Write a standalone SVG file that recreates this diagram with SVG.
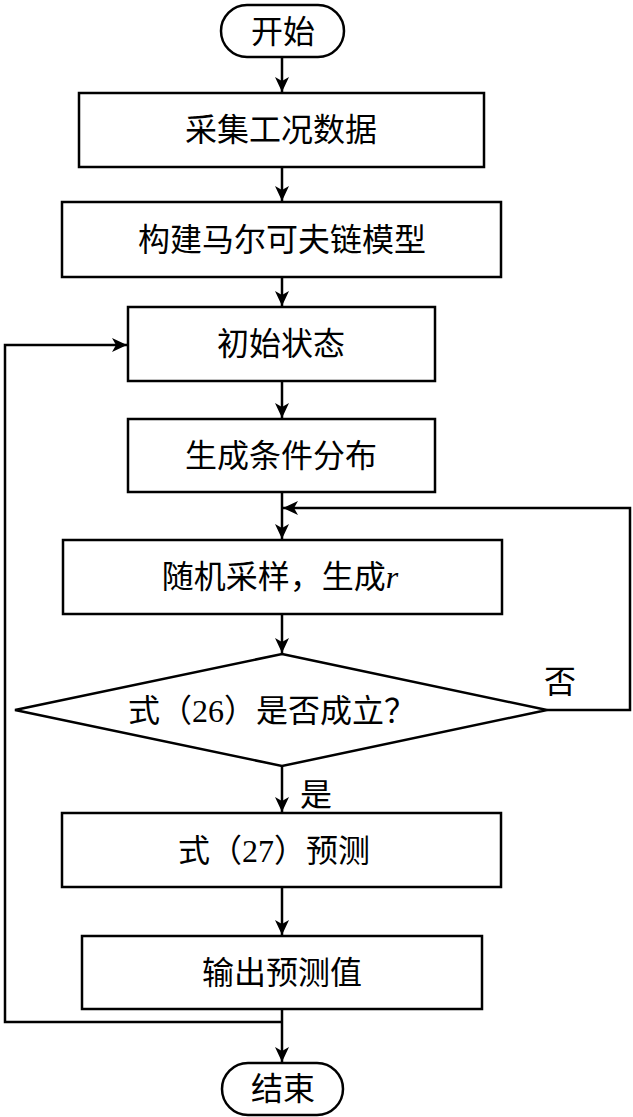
<svg xmlns="http://www.w3.org/2000/svg" width="633" height="1117" viewBox="0 0 633 1117">
<style>
.s{fill:#fff;stroke:#000;stroke-width:2.5}
.t{font-family:"Liberation Serif","Noto Sans CJK SC",serif;font-size:32px;text-anchor:middle;dominant-baseline:central;fill:#000}
.c{fill:none;stroke:#000;stroke-width:2.5}
</style>
<defs>
<marker id="a" markerUnits="userSpaceOnUse" markerWidth="16" markerHeight="14" refX="15" refY="7" orient="auto">
<path d="M0,0 L15,7 L0,14 L4,7 Z" fill="#000"/>
</marker>
</defs>
<g id="connectors">
<line class="c" x1="282" y1="57" x2="282" y2="92" marker-end="url(#a)"/>
<line class="c" x1="282" y1="167" x2="282" y2="201" marker-end="url(#a)"/>
<line class="c" x1="282" y1="277" x2="282" y2="306" marker-end="url(#a)"/>
<line class="c" x1="282" y1="381" x2="282" y2="418" marker-end="url(#a)"/>
<line class="c" x1="282" y1="492" x2="282" y2="539" marker-end="url(#a)"/>
<line class="c" x1="282" y1="614" x2="282" y2="653" marker-end="url(#a)"/>
<line class="c" x1="282" y1="766" x2="282" y2="812" marker-end="url(#a)"/>
<line class="c" x1="282" y1="887" x2="282" y2="935" marker-end="url(#a)"/>
<line class="c" x1="282" y1="1009" x2="282" y2="1062" marker-end="url(#a)"/>
<polyline class="c" points="282,1022 5,1022 5,345 127,345" marker-end="url(#a)"/>
<polyline class="c" points="547,710 630,710 630,508 283,508" marker-end="url(#a)"/>
<text class="t" x="560" y="682">否</text>
<text class="t" x="316" y="795">是</text>
</g>
<g id="start">
<rect class="s" x="221" y="5" width="123" height="52" rx="26"/>
<text class="t" x="283" y="32">开始</text>
</g>
<g id="n1">
<rect class="s" x="79" y="93" width="405" height="74"/>
<text class="t" x="281" y="130">采集工况数据</text>
</g>
<g id="n2">
<rect class="s" x="62" y="202" width="439" height="75"/>
<text class="t" x="282" y="240">构建马尔可夫链模型</text>
</g>
<g id="n3">
<rect class="s" x="128" y="307" width="307" height="74"/>
<text class="t" x="281" y="344">初始状态</text>
</g>
<g id="n4">
<rect class="s" x="128" y="419" width="307" height="73"/>
<text class="t" x="281" y="456">生成条件分布</text>
</g>
<g id="n5">
<rect class="s" x="63" y="540" width="439" height="74"/>
<text class="t" x="280" y="577">随机采样，生成<tspan font-style="italic">r</tspan></text>
</g>
<g id="d1">
<polygon class="s" points="282,654 547,710 282,766 15,710"/>
<text class="t" x="272" y="711">式（26）是否成立？</text>
</g>
<g id="n6">
<rect class="s" x="62" y="813" width="439" height="74"/>
<text class="t" x="274" y="851">式（27）预测</text>
</g>
<g id="n7">
<rect class="s" x="82" y="936" width="400" height="73"/>
<text class="t" x="282" y="973">输出预测值</text>
</g>
<g id="end">
<rect class="s" x="222" y="1063" width="121" height="52" rx="26"/>
<text class="t" x="283" y="1089">结束</text>
</g>
</svg>
